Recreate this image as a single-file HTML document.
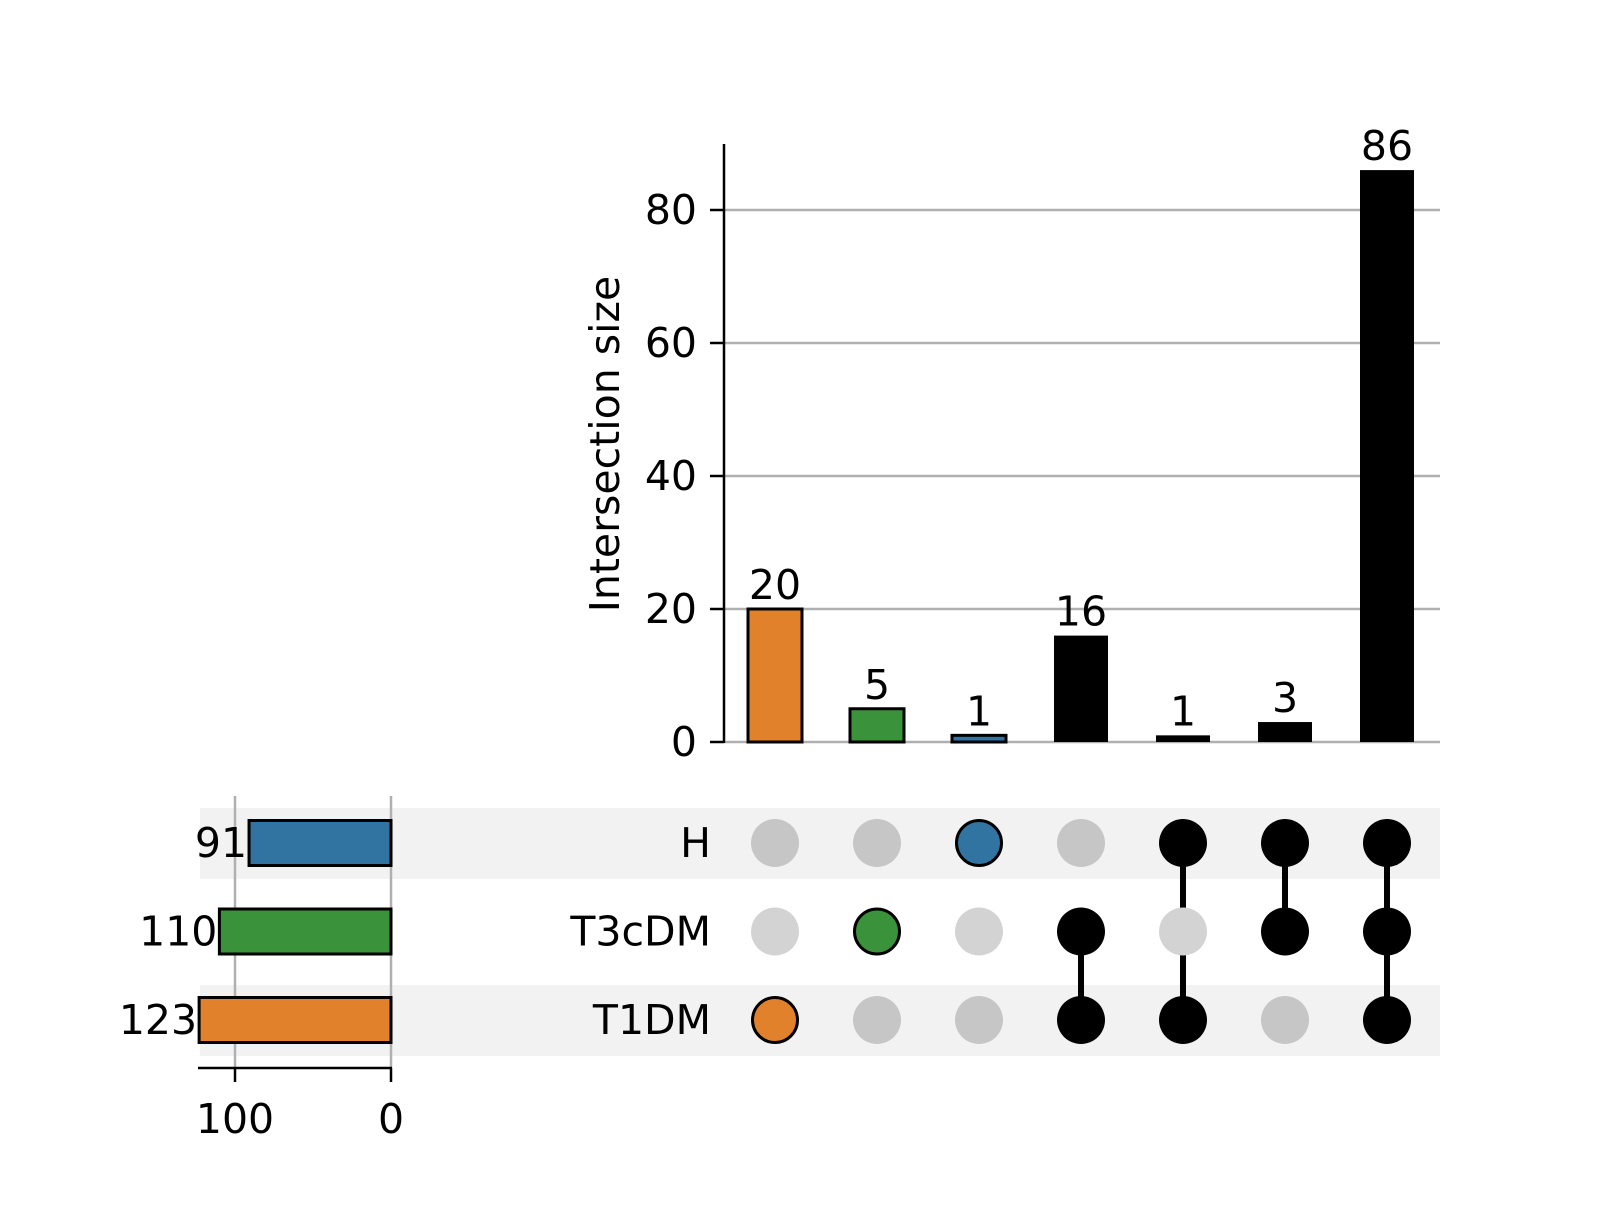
<!DOCTYPE html>
<html><head><meta charset="utf-8"><style>
body{margin:0;background:#fff}
svg text{font-family:"DejaVu Sans","Liberation Sans",sans-serif;fill:#000}
</style></head><body>
<svg width="1600" height="1200" viewBox="0 0 1600 1200" xmlns="http://www.w3.org/2000/svg">
<g id="bands"></g><g id="grid"></g><g id="bars"></g><g id="lines"></g><g id="matrix"></g><g id="sets"></g><g id="axes"></g>
</svg>
<script>
const sets = ['H','T3cDM','T1DM'];
const setSizes = [91,110,123];
const setColors = ['#3274a1','#3a923a','#e1812c'];
const interSizes = [20,5,1,16,1,3,86];
const interMembers = [[2],[1],[0],[1,2],[0,2],[0,1],[0,1,2]];
const yTicks = [0,20,40,60,80];
const xTicks = [100,0];

const NS='http://www.w3.org/2000/svg';
const FS=41;
function mk(tag,attrs,parent,txt){const e=document.createElementNS(NS,tag);for(const k in attrs)e.setAttribute(k,attrs[k]);if(txt!==undefined)e.textContent=txt;document.getElementById(parent).appendChild(e);return e;}
const colX=i=>775+102*i;
const yS=v=>742-6.65*v;
const rowY=r=>843+88.5*r;
const xS=v=>391-1.56*v;

[0,2].forEach(r=>{const e=mk('rect',{x:200,y:rowY(r)-35,width:1240,height:71,fill:'#f2f2f2'},'bands');

});
yTicks.forEach(t=>{const e=mk('line',{x1:724,x2:1440,y1:yS(t),y2:yS(t),stroke:'#b0b0b0','stroke-width':2.5},'grid');

});
xTicks.forEach(t=>{const e=mk('line',{x1:xS(t),x2:xS(t),y1:796,y2:1068,stroke:'#b0b0b0','stroke-width':2.5},'grid');

});
interSizes.forEach((v,i)=>{
 const m=interMembers[i]; const single=m.length===1;
 const fill=single?setColors[m[0]]:'#000';
 const b=mk('rect',{x:colX(i)-27,y:yS(v),width:54,height:yS(0)-yS(v),fill:fill,stroke:'#000','stroke-width':single?3:0},'bars');
 
 
 const t=mk('text',{x:colX(i),y:yS(v)-10,'font-size':FS,'text-anchor':'middle'},'bars',String(v));
 
 
});
interMembers.forEach((m,i)=>{
 if(m.length>1){const l=mk('line',{x1:colX(i),x2:colX(i),y1:rowY(Math.min(...m)),y2:rowY(Math.max(...m)),stroke:'#000','stroke-width':6},'lines');
 
 }
 sets.forEach((s,r)=>{
  const on=m.includes(r);
  let fill=on?(m.length===1?setColors[r]:'#000'):(r===1?'#d3d3d3':'#c6c6c6');
  const c=mk('circle',{cx:colX(i),cy:rowY(r),r:on&&m.length===1?22.5:24,fill:fill,stroke:on&&m.length===1?'#000':'none','stroke-width':3},'matrix');
  
  
 });
});
sets.forEach((s,r)=>{
 const t=mk('text',{x:711,y:rowY(r)+14,'font-size':FS,'text-anchor':'end'},'sets',s);
 
 
 const b=mk('rect',{x:xS(setSizes[r]),y:rowY(r)-22.5,width:xS(0)-xS(setSizes[r]),height:45,fill:setColors[r],stroke:'#000','stroke-width':3},'sets');
 
 
 const v=mk('text',{x:xS(setSizes[r])-2,y:rowY(r)+14,'font-size':FS,'text-anchor':'end'},'sets',String(setSizes[r]));
 
 
});
let a=mk('line',{x1:724,x2:724,y1:144,y2:743,stroke:'#000','stroke-width':2.5},'axes');


yTicks.forEach(t=>{const l=mk('line',{x1:710,x2:724,y1:yS(t),y2:yS(t),stroke:'#000','stroke-width':2.5},'axes');


const tx=mk('text',{x:697,y:yS(t)+14,'font-size':FS,'text-anchor':'end'},'axes',String(t));

});
const yl=mk('text',{x:0,y:0,'font-size':FS,'text-anchor':'middle',transform:'translate(619,444) rotate(-90)'},'axes','Intersection size');


a=mk('line',{x1:198,x2:392,y1:1068,y2:1068,stroke:'#000','stroke-width':2.5},'axes');


xTicks.forEach(t=>{const l=mk('line',{x1:xS(t),x2:xS(t),y1:1068,y2:1082,stroke:'#000','stroke-width':2.5},'axes');


const tx=mk('text',{x:xS(t),y:1133,'font-size':FS,'text-anchor':'middle'},'axes',String(t));

});
</script>
</body></html>
